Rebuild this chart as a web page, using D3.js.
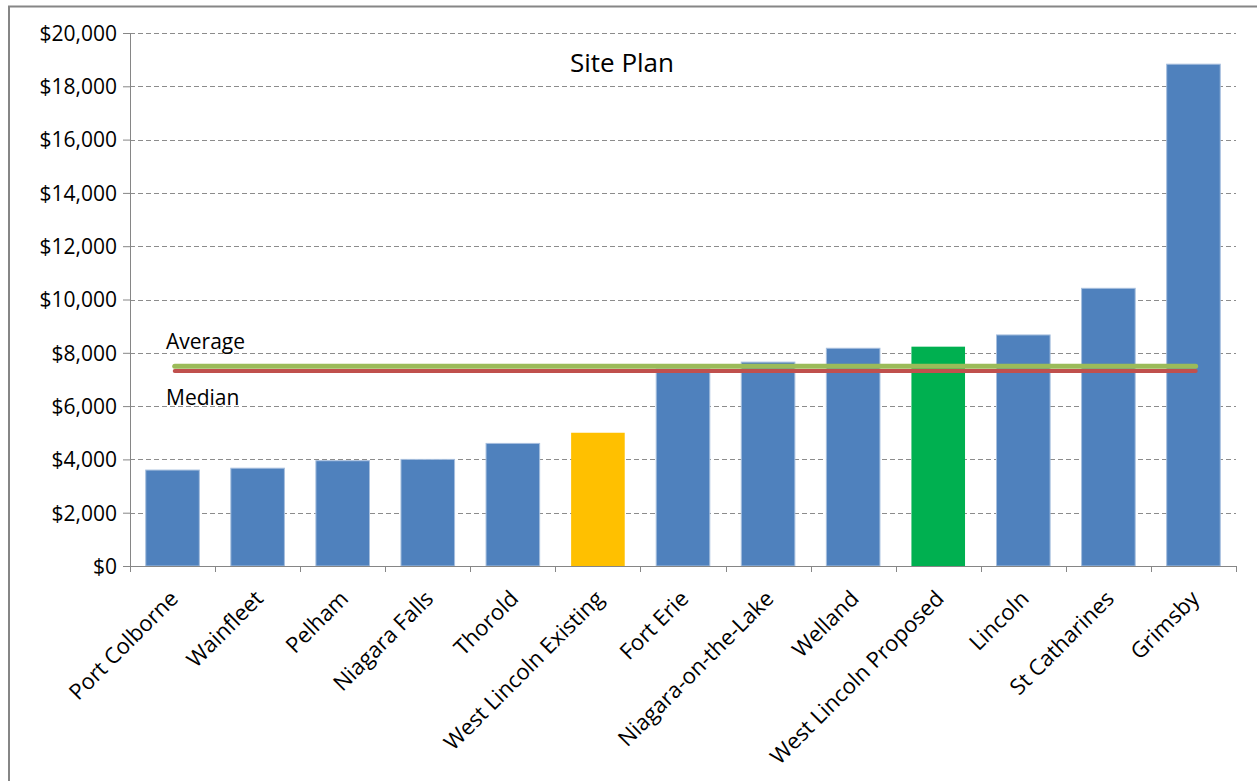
<!DOCTYPE html>
<html>
<head>
<meta charset="utf-8">
<script src="https://cdn.jsdelivr.net/npm/d3@7"></script>
<style>
  body { margin: 0; background: #fff; }
  svg { display: block; font-family: "Open Sans", "Noto Sans", sans-serif; }
  .axis path, .axis line { stroke: #868686; }
  .axis text { fill: #000; font-size: 21px; }
  .axis text.cat { font-size: 22px; }
  .grid line { stroke: #8c8c8c; stroke-dasharray: 5 3; }
</style>
</head>
<body>
<svg id="chart" width="1257" height="781"></svg>
<script>
// data
const municipalities = ["Port Colborne", "Wainfleet", "Pelham", "Niagara Falls", "Thorold",
    "West Lincoln Existing", "Fort Erie", "Niagara-on-the-Lake", "Welland",
    "West Lincoln Proposed", "Lincoln", "St Catharines", "Grimsby"];
const fees = [3600, 3670, 3950, 4000, 4600, 5000, 7400, 7650, 8170, 8230, 8670, 10420, 18830];
const highlight = ["other", "other", "other", "other", "other", "existing", "other", "other",
    "other", "proposed", "other", "other", "other"];
const averageFee = 7500;
const medianFee = 7320;
const yTicks = [0, 2000, 4000, 6000, 8000, 10000, 12000, 14000, 16000, 18000, 20000];

const width = 1257, height = 781;
const margin = { top: 33, right: 21, bottom: 215, left: 130 };
const innerW = width - margin.left - margin.right;
const innerH = height - margin.top - margin.bottom;

const svg = d3.select("#chart");

// outer chart border
svg.append("rect")
    .attr("x", 9).attr("y", 6.5)
    .attr("width", 1260).attr("height", 800)
    .attr("fill", "none").attr("stroke", "#868686").attr("stroke-width", 2);

const g = svg.append("g").attr("transform", `translate(${margin.left},${margin.top})`);

const x = d3.scaleBand().domain(municipalities).range([0, innerW]).paddingInner(0.37).paddingOuter(0.185);
const y = d3.scaleLinear().domain([0, 20000]).range([innerH, 0]);

const colour = d3.scaleOrdinal()
    .domain(["other", "existing", "proposed"])
    .range(["#4f81bd", "#ffc000", "#00b050"]);

// gridlines
g.append("g").attr("class", "grid")
    .selectAll("line")
    .data(yTicks.filter(d => d > 0))
    .join("line")
    .attr("x1", 0).attr("x2", innerW)
    .attr("y1", d => Math.round(y(d)) + 0.5).attr("y2", d => Math.round(y(d)) + 0.5);

// bars
g.selectAll(".bar")
    .data(municipalities)
    .join("rect")
    .attr("class", "bar")
    .attr("x", d => x(d))
    .attr("y", (d, i) => y(fees[i]))
    .attr("width", x.bandwidth())
    .attr("height", (d, i) => innerH - y(fees[i]))
    .attr("fill", (d, i) => colour(highlight[i]))
    .attr("stroke", (d, i) => highlight[i] === "other" ? "#a7bfde" : "none")
    .attr("stroke-width", 1);

// median and average lines
const lineX0 = x(municipalities[0]) + 29;
const lineX1 = x(municipalities[municipalities.length - 1]) + 29;
g.append("line")
    .attr("x1", lineX0).attr("x2", lineX1)
    .attr("y1", y(medianFee)).attr("y2", y(medianFee))
    .attr("stroke", "#c0504d").attr("stroke-width", 4).attr("stroke-linecap", "round");
g.append("line")
    .attr("x1", lineX0).attr("x2", lineX1)
    .attr("y1", y(averageFee)).attr("y2", y(averageFee))
    .attr("stroke", "#9bbb59").attr("stroke-width", 5).attr("stroke-linecap", "round");

g.append("text")
    .attr("x", 36).attr("y", y(averageFee) - 17)
    .attr("font-size", 21).text("Average");
g.append("text")
    .attr("x", 36).attr("y", y(medianFee) + 34)
    .attr("font-size", 21).text("Median");

// y axis
g.append("g").attr("class", "axis")
    .call(d3.axisLeft(y).tickValues(yTicks).tickSize(7).tickPadding(6)
        .tickFormat(d => "$" + d3.format(",")(d)))
    .attr("font-family", null).attr("font-size", null)
    .call(a => a.select(".domain").attr("d", `M0.5,0V${innerH}`))
    .selectAll("text").attr("dy", "0.35em");

// x axis with ticks between categories
const xAxis = g.append("g").attr("class", "axis")
    .attr("transform", `translate(0,${innerH})`);
xAxis.append("line")
    .attr("x1", -7).attr("x2", innerW)
    .attr("y1", 0.5).attr("y2", 0.5);
const step = x.step();
const firstEdge = x(municipalities[0]) - (step - x.bandwidth()) / 2;
xAxis.selectAll(".tick-mark")
    .data(d3.range(municipalities.length + 1))
    .join("line")
    .attr("class", "tick-mark")
    .attr("x1", i => Math.round(firstEdge + i * step) + 0.5)
    .attr("x2", i => Math.round(firstEdge + i * step) + 0.5)
    .attr("y1", 0).attr("y2", 6);
xAxis.selectAll(".cat")
    .data(municipalities)
    .join("text")
    .attr("class", "cat")
    .attr("text-anchor", "end")
    .attr("transform", d => `translate(${x(d) + x.bandwidth() / 2 + 7},${34}) rotate(-45)`)
    .text(d => d);

// title
g.append("text")
    .attr("x", 622 - margin.left).attr("y", 72 - margin.top)
    .attr("text-anchor", "middle")
    .attr("font-size", 26)
    .text("Site Plan");
</script>
</body>
</html>
